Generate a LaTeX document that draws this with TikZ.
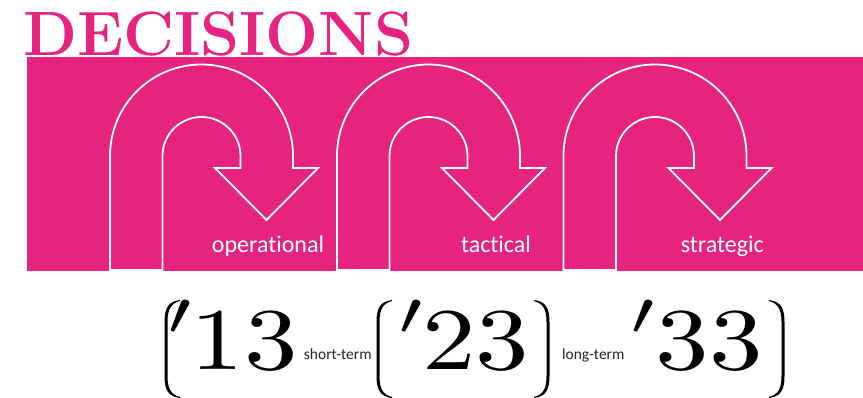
\documentclass[tikz,border=0pt]{standalone}
\usepackage{fontspec}
\newfontfamily\carlito[Ligatures=NoCommon]{Carlito}
\definecolor{deepink}{RGB}{230,36,128}
\tikzset{
  arrowshape/.style={fill=deepink, draw=white, line width=1.8pt, line join=miter},
  lbl/.style={font=\carlito\fontsize{24}{24}\selectfont, text=white, anchor=base, inner sep=0pt},
  smalllbl/.style={font=\carlito\fontsize{15.5}{15.5}\selectfont, text=black!85, anchor=base, inner sep=0pt},
  yr/.style={anchor=base east, inner sep=0pt},
  primemark/.style={anchor=north east, inner sep=0pt},
  pics/lparen/.style={code={
    \fill[black] (17,0) .. controls (6,1.5) and (1.5,7) .. (1.5,22) -- (1.5,76)
      .. controls (1.5,91) and (6,96.5) .. (17,98) -- (17,97)
      .. controls (8,94.5) and (4.5,89) .. (4.5,76) -- (4.5,22)
      .. controls (4.5,9) and (8,3.5) .. (17,1) -- cycle;}}
}
\newcommand\uturnarrow[1]{%
  \draw[arrowshape] (#1-91.5,270) -- (#1-91.5,156)
    arc[start angle=180,end angle=360,radius=91.5] -- (#1+91.5,168)
    -- (#1+116.5,168) -- (#1+65,220) -- (#1+13.5,168) -- (#1+39,168) -- (#1+39,156)
    arc[start angle=360,end angle=180,radius=39] -- (#1-39,270) -- cycle;}
\newcommand\bigprime{\scalebox{10.7}[8.8]{$\scriptstyle\prime$}}
\newcommand\bigyear[1]{\scalebox{10.7}[8.8]{\kern-0.45pt$#1$}}
\begin{document}
\begin{tikzpicture}[x=1pt,y=-1pt]
\useasboundingbox (0,0) rectangle (863,397);
\fill[white] (0,0) rectangle (863,397);
% title
\node[anchor=base west, inner sep=0pt, text=deepink] (title) at (23,55)
  {\resizebox{390pt}{!}{\fontsize{61}{61}\selectfont\bfseries DECISIONS}};
% band
\fill[deepink] (26.5,57) rectangle (864,271);
% arrows
\uturnarrow{201.5}
\uturnarrow{428.5}
\uturnarrow{655}
\node[lbl] (op) at (268,252) {operational};
\node[lbl] (ta) at (496,252) {tactical};
\node[lbl] (st) at (722.3,252) {strategic};
% formula
\pic at (163,300) {lparen};
\pic at (375,300) {lparen};
\pic[xscale=-1] at (551,300) {lparen};
\pic[xscale=-1] at (786,300) {lparen};
\node[primemark] (p13) at (192,300) {\bigprime};
\node[primemark] (p23) at (423.5,300) {\bigprime};
\node[primemark] (p33) at (655,300) {\bigprime};
\node[yr] (y13) at (298,369) {\bigyear{13}};
\node[yr] (y23) at (529.6,369) {\bigyear{23}};
\node[yr] (y33) at (763,369) {\bigyear{33}};
\node[smalllbl] (shortt) at (337.8,359) {short-term};
\node[smalllbl] (longt) at (593.3,359) {long-term};
\end{tikzpicture}
\end{document}
